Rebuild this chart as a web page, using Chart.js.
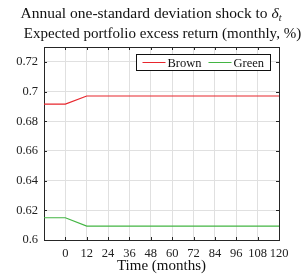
<!DOCTYPE html>
<html>
<head>
<meta charset="utf-8">
<script src="https://cdn.jsdelivr.net/npm/chart.js@4"></script>
<style>
  html, body { margin: 0; padding: 0; background: #fff; }
  #wrap { width: 304px; height: 274px; }
</style>
</head>
<body>
<div id="wrap"><canvas id="shockChart" width="304" height="274"></canvas></div>
<script>
// months after the shock
const months = [-12, 0, 12, 24, 36, 48, 60, 72, 84, 96, 108, 120];
const brown = [0.6915, 0.6915, 0.697, 0.697, 0.697, 0.697, 0.697, 0.697, 0.697, 0.697, 0.697, 0.697];
const green = [0.615, 0.615, 0.6094, 0.6094, 0.6094, 0.6094, 0.6094, 0.6094, 0.6094, 0.6094, 0.6094, 0.6094];
const seriesNames = ["Brown", "Green"];
const xTitle = "Time (months)";

const serif = "'Liberation Serif', 'DejaVu Serif', serif";
const ink = "#262626";

// titles, inward ticks and the boxed legend
const decorations = {
  id: "decorations",
  afterDraw(chart) {
    const ctx = chart.ctx;
    const area = chart.chartArea;
    ctx.save();
    ctx.fillStyle = "#111";
    ctx.textBaseline = "alphabetic";

    // main title with subscript t
    const big = "15.5px " + serif;
    ctx.font = big;
    const t1 = "Annual one-standard deviation shock to ";
    const wt = ctx.measureText(t1).width;
    ctx.font = "italic " + big;
    const wd = ctx.measureText("δ").width;
    ctx.font = "italic 10px " + serif;
    const ws = ctx.measureText("t").width;
    const x0 = 151 - (wt + wd + ws) / 2;
    ctx.font = big;
    ctx.textAlign = "left";
    ctx.fillText(t1, x0, 18);
    ctx.font = "italic " + big;
    ctx.fillText("δ", x0 + wt, 18);
    ctx.font = "italic 10px " + serif;
    ctx.fillText("t", x0 + wt + wd, 21);

    // panel title and x axis title
    ctx.font = "15px " + serif;
    ctx.textAlign = "center";
    ctx.fillText("Expected portfolio excess return (monthly, %)", (area.left + area.right) / 2 + 1, 38);
    ctx.fillText(xTitle, (area.left + area.right) / 2, 270);

    // inward tick marks
    ctx.strokeStyle = ink;
    ctx.lineWidth = 1;
    const xs = chart.scales.x, ys = chart.scales.y;
    ctx.beginPath();
    xs.ticks.forEach(t => {
      const px = Math.round(xs.getPixelForValue(t.value)) + 0.5;
      ctx.moveTo(px, area.bottom); ctx.lineTo(px, area.bottom - 3);
      ctx.moveTo(px, area.top); ctx.lineTo(px, area.top + 3);
    });
    ys.ticks.forEach(t => {
      const py = Math.round(ys.getPixelForValue(t.value)) + 0.5;
      ctx.moveTo(area.left, py); ctx.lineTo(area.left + 3, py);
      ctx.moveTo(area.right, py); ctx.lineTo(area.right - 3, py);
    });
    ctx.stroke();

    // legend box
    const bx = 136.5, by = 54.5, bw = 134, bh = 16;
    ctx.fillStyle = "#fff";
    ctx.fillRect(bx, by, bw, bh);
    ctx.strokeStyle = "#111";
    ctx.strokeRect(bx, by, bw, bh);
    ctx.font = "12.5px " + serif;
    ctx.textAlign = "left";
    ctx.textBaseline = "middle";
    const items = [{ x: bx + 6 }, { x: bx + 72 }];
    chart.data.datasets.forEach((ds, i) => {
      const lx = items[i].x;
      const ly = by + bh / 2;
      ctx.strokeStyle = ds.borderColor;
      ctx.beginPath();
      ctx.moveTo(lx, ly); ctx.lineTo(lx + 23, ly);
      ctx.stroke();
      ctx.fillStyle = "#111";
      ctx.fillText(ds.label, lx + 25, ly + 1);
    });
    ctx.restore();
  }
};

const ctx = document.getElementById("shockChart").getContext("2d");

new Chart(ctx, {
  type: "line",
  data: {
    datasets: [{
      label: seriesNames[0],
      data: months.map((m, i) => ({ x: m, y: brown[i] })),
      borderColor: "#e8262d",
      borderWidth: 1.2,
      pointRadius: 0,
      tension: 0
    }, {
      label: seriesNames[1],
      data: months.map((m, i) => ({ x: m, y: green[i] })),
      borderColor: "#43b543",
      borderWidth: 1.2,
      pointRadius: 0,
      tension: 0
    }]
  },
  plugins: [decorations],
  options: {
    responsive: false,
    animation: false,
    layout: { padding: { top: 47, right: 25, left: 0, bottom: 0 } },
    plugins: {
      legend: { display: false },
      title: { display: false },
      tooltip: { enabled: false }
    },
    scales: {
      x: {
        type: "linear",
        min: -12,
        max: 120,
        afterFit: s => { s.height = 34; },
        afterBuildTicks: s => { s.ticks = s.ticks.filter(t => t.value >= 0); },
        ticks: { stepSize: 12, color: "#222", font: { family: serif, size: 12.5 }, maxRotation: 0, padding: 6 },
        grid: { color: "#e0e0e0", drawTicks: false },
        border: { color: ink, width: 1 }
      },
      y: {
        min: 0.6,
        max: 0.73,
        afterFit: s => { s.width = 44; },
        afterBuildTicks: s => {
          s.ticks = [0.6, 0.62, 0.64, 0.66, 0.68, 0.7, 0.72].map(v => ({ value: v }));
        },
        ticks: { color: "#222", font: { family: serif, size: 12.5 }, padding: 6,
                 callback: v => String(+v.toFixed(2)) },
        grid: { color: "#e0e0e0", drawTicks: false },
        border: { color: ink, width: 1 }
      },
      x2: { position: "top", type: "linear", min: -12, max: 120, display: true,
            afterFit: s => { s.height = 0; },
            ticks: { display: false }, grid: { display: false, drawTicks: false }, border: { color: ink, width: 1 } },
      y2: { position: "right", min: 0.6, max: 0.73, display: true,
            afterFit: s => { s.width = 0; },
            ticks: { display: false }, grid: { display: false, drawTicks: false }, border: { color: ink, width: 1 } }
    }
  }
});
</script>
</body>
</html>
